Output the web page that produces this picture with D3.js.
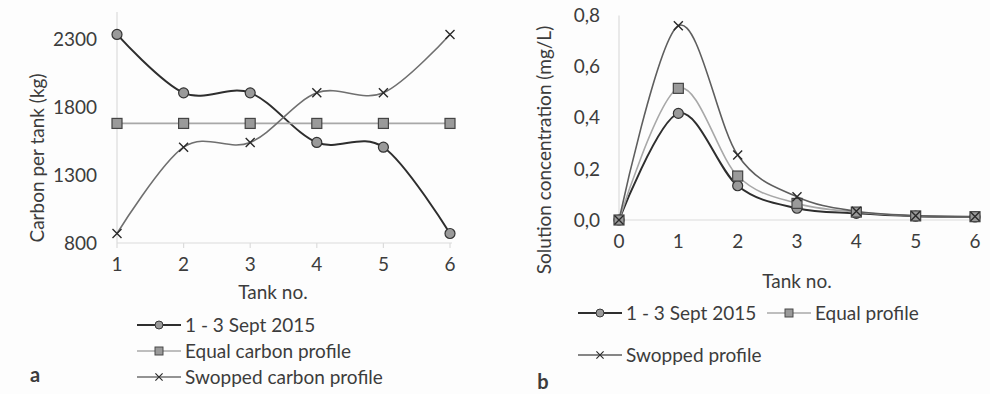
<!DOCTYPE html>
<html>
<head>
<meta charset="utf-8">
<script src="https://cdn.jsdelivr.net/npm/d3@7"></script>
<style>
  body { margin: 0; background: #fdfdfd; }
  svg { display: block; font-family: Lato, 'Open Sans', sans-serif; }
  text { fill: #3c3c3c; }
</style>
</head>
<body>
<svg id="chart" width="990" height="394"></svg>
<script>
// panel a
const tanksA = [1, 2, 3, 4, 5, 6]
const septA = [2335, 1905, 1905, 1540, 1505, 870]
const equalA = [1680, 1680, 1680, 1680, 1680, 1680]
const swopA = [870, 1505, 1540, 1905, 1905, 2335]
const ticksA = [800, 1300, 1800, 2300]
const namesA = ['1 - 3 Sept 2015', 'Equal carbon profile', 'Swopped carbon profile']

// panel b
const tanksB = [0, 1, 2, 3, 4, 5, 6]
const septB = [0, 0.417, 0.134, 0.046, 0.026, 0.015, 0.012]
const equalB = [0, 0.515, 0.172, 0.065, 0.031, 0.016, 0.013]
const swopB = [0, 0.76, 0.254, 0.091, 0.034, 0.017, 0.014]
const ticksB = [0, 0.2, 0.4, 0.6, 0.8]
const namesB = ['1 - 3 Sept 2015', 'Equal profile', 'Swopped profile']

const styles = [
  { line: '#2e2e2e', width: 2, marker: 'circle' },
  { line: '#a8a8a8', width: 1.6, marker: 'square' },
  { line: '#6f6f6f', width: 1.6, marker: 'cross' }
]
const FS = '19px'

const svg = d3.select('#chart')
const curve = d3.curveCardinal.tension(0)

function marker(g, type, x, y) {
  if (type === 'circle') {
    g.append('circle').attr('cx', x).attr('cy', y).attr('r', 5)
      .attr('fill', '#9a9a9a').attr('stroke', '#333').attr('stroke-width', 1.2)
  } else if (type === 'square') {
    g.append('rect').attr('x', x - 5).attr('y', y - 5).attr('width', 10).attr('height', 10)
      .attr('fill', '#9a9a9a').attr('stroke', '#444').attr('stroke-width', 1.2)
  } else {
    const s = 4.5
    g.append('path').attr('d', `M${x - s},${y - s}L${x + s},${y + s}M${x - s},${y + s}L${x + s},${y - s}`)
      .attr('stroke', '#2a2a2a').attr('stroke-width', 1.4).attr('fill', 'none')
  }
}

function panel(opts) {
  const { tanks, series, x0, x1, y0, y1, domain, ticks, fmt, tickMarks, labelGap } = opts
  const x = d3.scaleLinear().domain(d3.extent(tanks)).range([x0, x1])
  const y = d3.scaleLinear().domain(domain).range([y0, y1])
  const g = svg.append('g')

  // axes lines
  g.append('line').attr('x1', x0).attr('x2', x0).attr('y1', y1).attr('y2', y0)
    .attr('stroke', '#dcdcdc').attr('stroke-width', 1.2)
  g.append('line').attr('x1', x0).attr('x2', x1 + 2).attr('y1', y0).attr('y2', y0)
    .attr('stroke', '#dcdcdc').attr('stroke-width', 1.2)

  if (tickMarks) {
    g.selectAll('.tk').data(tanks).enter().append('line')
      .attr('x1', d => x(d)).attr('x2', d => x(d))
      .attr('y1', y0).attr('y2', y0 + 5)
      .attr('stroke', '#dcdcdc').attr('stroke-width', 1.2)
  }

  g.selectAll('.yl').data(ticks).enter().append('text')
    .attr('x', x0 - labelGap).attr('y', d => y(d)).attr('dy', '0.35em')
    .attr('text-anchor', 'end').style('font-size', FS)
    .text(fmt)

  g.selectAll('.xl').data(tanks).enter().append('text')
    .attr('x', d => x(d)).attr('y', y0 + 28)
    .attr('text-anchor', 'middle').style('font-size', FS)
    .text(d => d)

  const line = d3.line().x((d, i) => x(tanks[i])).y(d => y(d)).curve(curve)
  series.forEach((s, k) => {
    g.append('path').datum(s).attr('d', line)
      .attr('fill', 'none').attr('stroke', opts.colors ? opts.colors[k] : styles[k].line)
      .attr('stroke-width', styles[k].width)
  })
  series.forEach((s, k) => {
    s.forEach((v, i) => marker(g, styles[k].marker, x(tanks[i]), y(v)))
  })
  return { x, y }
}

panel({
  tanks: tanksA, series: [septA, equalA, swopA],
  x0: 117, x1: 450, y0: 243, y1: 12, domain: [800, 2500],
  ticks: ticksA, fmt: d => d, tickMarks: true, labelGap: 20
})

panel({
  tanks: tanksB, series: [septB, equalB, swopB],
  x0: 619, x1: 975, y0: 220, y1: 15.5, domain: [0, 0.8],
  ticks: ticksB, fmt: d => d3.format('.1f')(d).replace('.', ','), tickMarks: false, labelGap: 19,
  colors: ['#2e2e2e', '#a8a8a8', '#5e5e5e']
})

// axis titles
svg.append('text').attr('transform', 'translate(44,158) rotate(-90)')
  .attr('text-anchor', 'middle').style('font-size', FS).text('Carbon per tank (kg)')
svg.append('text').attr('x', 273).attr('y', 299)
  .attr('text-anchor', 'middle').style('font-size', FS).text('Tank no.')

svg.append('text').attr('transform', 'translate(551,150) rotate(-90)')
  .attr('text-anchor', 'middle').style('font-size', FS).text('Solution concentration (mg/L)')
svg.append('text').attr('x', 797).attr('y', 288)
  .attr('text-anchor', 'middle').style('font-size', FS).text('Tank no.')

// legends
function legendItem(k, lx, ly, label, color) {
  const g = svg.append('g')
  g.append('line').attr('x1', lx).attr('x2', lx + 44).attr('y1', ly).attr('y2', ly)
    .attr('stroke', color || styles[k].line).attr('stroke-width', styles[k].width)
  const m = g.append('g').attr('transform', `translate(${lx + 22},${ly}) scale(0.8)`)
  marker(m, styles[k].marker, 0, 0)
  g.append('text').attr('x', lx + 48).attr('y', ly).attr('dy', '0.35em')
    .style('font-size', FS).text(label)
}
namesA.forEach((n, k) => legendItem(k, 137, [325, 351, 377][k], n))
legendItem(0, 578, 313, namesB[0])
legendItem(1, 767, 313, namesB[1])
legendItem(2, 578, 355, namesB[2], '#5e5e5e')

svg.append('text').attr('x', 35).attr('y', 382).attr('text-anchor', 'middle')
  .style('font-size', '20px').style('font-weight', 'bold').text('a')
svg.append('text').attr('x', 543).attr('y', 389).attr('text-anchor', 'middle')
  .style('font-size', '20px').style('font-weight', 'bold').text('b')
</script>
</body>
</html>
